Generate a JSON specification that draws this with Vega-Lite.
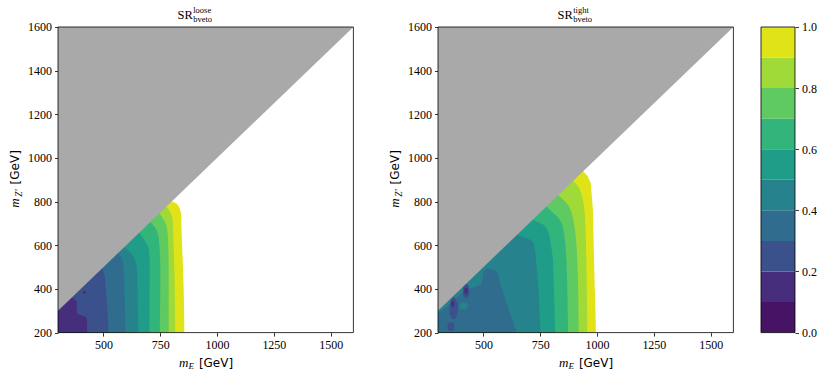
{
 "$schema": "https://vega.github.io/schema/vega-lite/v6.json",
 "padding": {"left": 8, "top": 6, "right": 0, "bottom": 0},
 "background": "#ffffff",
 "bounds": "flush",
 "spacing": 27,
 "resolve": {"scale": {"x": "independent", "y": "independent"}},
 "config": {
  "view": {"stroke": null},
  "font": "Liberation Serif, DejaVu Serif, serif",
  "axis": {"grid": false, "domain": false, "ticks": true, "tickColor": "#000", "tickSize": 3.5, "tickWidth": 0.8, "labelFont": "Liberation Serif, DejaVu Serif, serif", "labelFontSize": 12, "labelColor": "#000", "labelPadding": 3, "labelFlush": false, "labelOverlap": false, "format": "d"}
 },
 "datasets": {
  "tri": [{"x": 300, "y": 300}, {"x": 1600, "y": 1600}],
  "cbar": [
   {"c": 0, "lo": 0.0, "hi": 0.1}, {"c": 1, "lo": 0.1, "hi": 0.2}, {"c": 2, "lo": 0.2, "hi": 0.3}, {"c": 3, "lo": 0.3, "hi": 0.4}, {"c": 4, "lo": 0.4, "hi": 0.5},
   {"c": 5, "lo": 0.5, "hi": 0.6}, {"c": 6, "lo": 0.6, "hi": 0.7}, {"c": 7, "lo": 0.7, "hi": 0.8}, {"c": 8, "lo": 0.8, "hi": 0.9}, {"c": 9, "lo": 0.9, "hi": 1.0}
  ],
  "bands": [
   {"p":1,"s":"a9","c":9,"y":200,"a":300,"b":856},{"p":1,"s":"a9","c":9,"y":300,"a":300,"b":855},{"p":1,"s":"a9","c":9,"y":400,"a":300,"b":853},{"p":1,"s":"a9","c":9,"y":500,"a":300,"b":850},{"p":1,"s":"a9","c":9,"y":600,"a":300,"b":846},{"p":1,"s":"a9","c":9,"y":700,"a":300,"b":843},{"p":1,"s":"a9","c":9,"y":740,"a":300,"b":842},{"p":1,"s":"a9","c":9,"y":760,"a":300,"b":838},{"p":1,"s":"a9","c":9,"y":780,"a":300,"b":830},{"p":1,"s":"a9","c":9,"y":790,"a":300,"b":822},{"p":1,"s":"a9","c":9,"y":797,"a":300,"b":810},{"p":1,"s":"a9","c":9,"y":803,"a":300,"b":798},
   {"p":1,"s":"a8","c":8,"y":200,"a":300,"b":816},{"p":1,"s":"a8","c":8,"y":300,"a":300,"b":815},{"p":1,"s":"a8","c":8,"y":400,"a":300,"b":814},{"p":1,"s":"a8","c":8,"y":500,"a":300,"b":812},{"p":1,"s":"a8","c":8,"y":600,"a":300,"b":809},{"p":1,"s":"a8","c":8,"y":700,"a":300,"b":806},{"p":1,"s":"a8","c":8,"y":735,"a":300,"b":801},{"p":1,"s":"a8","c":8,"y":765,"a":300,"b":787},{"p":1,"s":"a8","c":8,"y":778,"a":300,"b":778},{"p":1,"s":"a8","c":8,"y":790,"a":300,"b":770},
   {"p":1,"s":"a7","c":7,"y":200,"a":300,"b":787},{"p":1,"s":"a7","c":7,"y":300,"a":300,"b":787},{"p":1,"s":"a7","c":7,"y":400,"a":300,"b":787},{"p":1,"s":"a7","c":7,"y":500,"a":300,"b":787},{"p":1,"s":"a7","c":7,"y":600,"a":300,"b":785},{"p":1,"s":"a7","c":7,"y":660,"a":300,"b":782},{"p":1,"s":"a7","c":7,"y":704,"a":300,"b":772},{"p":1,"s":"a7","c":7,"y":725,"a":300,"b":760},{"p":1,"s":"a7","c":7,"y":745,"a":300,"b":748},{"p":1,"s":"a7","c":7,"y":755,"a":300,"b":740},
   {"p":1,"s":"a6","c":6,"y":200,"a":300,"b":748},{"p":1,"s":"a6","c":6,"y":300,"a":300,"b":749},{"p":1,"s":"a6","c":6,"y":400,"a":300,"b":750},{"p":1,"s":"a6","c":6,"y":500,"a":300,"b":750},{"p":1,"s":"a6","c":6,"y":600,"a":300,"b":746},{"p":1,"s":"a6","c":6,"y":650,"a":300,"b":740},{"p":1,"s":"a6","c":6,"y":680,"a":300,"b":728},{"p":1,"s":"a6","c":6,"y":700,"a":300,"b":712},{"p":1,"s":"a6","c":6,"y":712,"a":300,"b":700},
   {"p":1,"s":"a5","c":5,"y":200,"a":300,"b":702},{"p":1,"s":"a5","c":5,"y":300,"a":300,"b":703},{"p":1,"s":"a5","c":5,"y":400,"a":300,"b":703},{"p":1,"s":"a5","c":5,"y":500,"a":300,"b":704},{"p":1,"s":"a5","c":5,"y":580,"a":300,"b":700},{"p":1,"s":"a5","c":5,"y":628,"a":300,"b":678},{"p":1,"s":"a5","c":5,"y":650,"a":300,"b":662},{"p":1,"s":"a5","c":5,"y":665,"a":300,"b":655},
   {"p":1,"s":"a4","c":4,"y":200,"a":300,"b":654},{"p":1,"s":"a4","c":4,"y":300,"a":300,"b":652},{"p":1,"s":"a4","c":4,"y":400,"a":300,"b":650},{"p":1,"s":"a4","c":4,"y":500,"a":300,"b":647},{"p":1,"s":"a4","c":4,"y":530,"a":300,"b":640},{"p":1,"s":"a4","c":4,"y":560,"a":300,"b":625},{"p":1,"s":"a4","c":4,"y":585,"a":300,"b":600},{"p":1,"s":"a4","c":4,"y":600,"a":300,"b":590},
   {"p":1,"s":"a3","c":3,"y":200,"a":300,"b":597},{"p":1,"s":"a3","c":3,"y":300,"a":300,"b":595},{"p":1,"s":"a3","c":3,"y":400,"a":300,"b":592},{"p":1,"s":"a3","c":3,"y":500,"a":300,"b":588},{"p":1,"s":"a3","c":3,"y":540,"a":300,"b":580},{"p":1,"s":"a3","c":3,"y":560,"a":300,"b":568},{"p":1,"s":"a3","c":3,"y":580,"a":300,"b":565},
   {"p":1,"s":"a2","c":2,"y":200,"a":300,"b":522},{"p":1,"s":"a2","c":2,"y":300,"a":300,"b":518},{"p":1,"s":"a2","c":2,"y":400,"a":300,"b":510},{"p":1,"s":"a2","c":2,"y":450,"a":300,"b":506},{"p":1,"s":"a2","c":2,"y":480,"a":300,"b":500},{"p":1,"s":"a2","c":2,"y":500,"a":300,"b":490},
   {"p":1,"s":"a1","c":1,"y":200,"a":300,"b":428},{"p":1,"s":"a1","c":1,"y":250,"a":300,"b":428},{"p":1,"s":"a1","c":1,"y":270,"a":300,"b":424},{"p":1,"s":"a1","c":1,"y":280,"a":300,"b":400},{"p":1,"s":"a1","c":1,"y":290,"a":300,"b":384},{"p":1,"s":"a1","c":1,"y":310,"a":300,"b":382},{"p":1,"s":"a1","c":1,"y":340,"a":300,"b":383},{"p":1,"s":"a1","c":1,"y":350,"a":300,"b":375},{"p":1,"s":"a1","c":1,"y":362,"a":300,"b":355},
   {"p":1,"s":"ai","c":1,"y":378,"a":412,"b":420},{"p":1,"s":"ai","c":1,"y":385,"a":409,"b":423},{"p":1,"s":"ai","c":1,"y":392,"a":412,"b":420},

   {"p":2,"s":"b9","c":9,"y":200,"a":300,"b":995},{"p":2,"s":"b9","c":9,"y":300,"a":300,"b":993},{"p":2,"s":"b9","c":9,"y":400,"a":300,"b":990},{"p":2,"s":"b9","c":9,"y":528,"a":300,"b":987},{"p":2,"s":"b9","c":9,"y":650,"a":300,"b":984},{"p":2,"s":"b9","c":9,"y":757,"a":300,"b":982},{"p":2,"s":"b9","c":9,"y":849,"a":300,"b":975},{"p":2,"s":"b9","c":9,"y":880,"a":300,"b":973},{"p":2,"s":"b9","c":9,"y":900,"a":300,"b":966},{"p":2,"s":"b9","c":9,"y":920,"a":300,"b":956},{"p":2,"s":"b9","c":9,"y":932,"a":300,"b":945},{"p":2,"s":"b9","c":9,"y":945,"a":300,"b":935},
   {"p":2,"s":"b8","c":8,"y":200,"a":300,"b":957},{"p":2,"s":"b8","c":8,"y":300,"a":300,"b":956},{"p":2,"s":"b8","c":8,"y":400,"a":300,"b":955},{"p":2,"s":"b8","c":8,"y":528,"a":300,"b":953},{"p":2,"s":"b8","c":8,"y":650,"a":300,"b":950},{"p":2,"s":"b8","c":8,"y":757,"a":300,"b":945},{"p":2,"s":"b8","c":8,"y":834,"a":300,"b":931},{"p":2,"s":"b8","c":8,"y":872,"a":300,"b":916},{"p":2,"s":"b8","c":8,"y":890,"a":300,"b":900},{"p":2,"s":"b8","c":8,"y":905,"a":300,"b":890},
   {"p":2,"s":"b7","c":7,"y":200,"a":300,"b":919},{"p":2,"s":"b7","c":7,"y":300,"a":300,"b":918},{"p":2,"s":"b7","c":7,"y":400,"a":300,"b":917},{"p":2,"s":"b7","c":7,"y":528,"a":300,"b":913},{"p":2,"s":"b7","c":7,"y":681,"a":300,"b":901},{"p":2,"s":"b7","c":7,"y":773,"a":300,"b":879},{"p":2,"s":"b7","c":7,"y":805,"a":300,"b":855},{"p":2,"s":"b7","c":7,"y":825,"a":300,"b":835},{"p":2,"s":"b7","c":7,"y":840,"a":300,"b":825},
   {"p":2,"s":"b6","c":6,"y":200,"a":300,"b":872},{"p":2,"s":"b6","c":6,"y":300,"a":300,"b":871},{"p":2,"s":"b6","c":6,"y":400,"a":300,"b":869},{"p":2,"s":"b6","c":6,"y":528,"a":300,"b":865},{"p":2,"s":"b6","c":6,"y":681,"a":300,"b":850},{"p":2,"s":"b6","c":6,"y":727,"a":300,"b":828},{"p":2,"s":"b6","c":6,"y":755,"a":300,"b":800},{"p":2,"s":"b6","c":6,"y":775,"a":300,"b":780},{"p":2,"s":"b6","c":6,"y":790,"a":300,"b":775},
   {"p":2,"s":"b5","c":5,"y":200,"a":300,"b":816},{"p":2,"s":"b5","c":5,"y":300,"a":300,"b":813},{"p":2,"s":"b5","c":5,"y":400,"a":300,"b":810},{"p":2,"s":"b5","c":5,"y":528,"a":300,"b":806},{"p":2,"s":"b5","c":5,"y":600,"a":300,"b":797},{"p":2,"s":"b5","c":5,"y":660,"a":300,"b":786},{"p":2,"s":"b5","c":5,"y":690,"a":300,"b":770},{"p":2,"s":"b5","c":5,"y":705,"a":300,"b":740},{"p":2,"s":"b5","c":5,"y":722,"a":300,"b":712},
   {"p":2,"s":"b4","c":4,"y":200,"a":300,"b":751},{"p":2,"s":"b4","c":4,"y":300,"a":300,"b":747},{"p":2,"s":"b4","c":4,"y":400,"a":300,"b":742},{"p":2,"s":"b4","c":4,"y":528,"a":300,"b":732},{"p":2,"s":"b4","c":4,"y":605,"a":300,"b":722},{"p":2,"s":"b4","c":4,"y":625,"a":300,"b":705},{"p":2,"s":"b4","c":4,"y":640,"a":300,"b":670},{"p":2,"s":"b4","c":4,"y":652,"a":300,"b":645},
   {"p":2,"s":"b3","c":3,"y":200,"a":300,"b":645},{"p":2,"s":"b3","c":3,"y":250,"a":300,"b":630},{"p":2,"s":"b3","c":3,"y":300,"a":300,"b":614},{"p":2,"s":"b3","c":3,"y":350,"a":300,"b":597},{"p":2,"s":"b3","c":3,"y":400,"a":300,"b":582},{"p":2,"s":"b3","c":3,"y":440,"a":300,"b":570},{"p":2,"s":"b3","c":3,"y":470,"a":300,"b":563},{"p":2,"s":"b3","c":3,"y":485,"a":300,"b":552},{"p":2,"s":"b3","c":3,"y":492,"a":300,"b":530},
   {"p":2,"s":"bs","c":4,"y":288,"a":300,"b":300},{"p":2,"s":"bs","c":4,"y":320,"a":300,"b":340},{"p":2,"s":"bs","c":4,"y":350,"a":300,"b":372},{"p":2,"s":"bs","c":4,"y":380,"a":300,"b":405},{"p":2,"s":"bs","c":4,"y":400,"a":300,"b":440},{"p":2,"s":"bs","c":4,"y":420,"a":300,"b":485},{"p":2,"s":"bs","c":4,"y":440,"a":300,"b":495},{"p":2,"s":"bs","c":4,"y":470,"a":300,"b":500},{"p":2,"s":"bs","c":4,"y":485,"a":300,"b":505},{"p":2,"s":"bs","c":4,"y":492,"a":300,"b":515},
   {"p":2,"s":"bi1","c":4,"y":307,"a":402,"b":423},{"p":2,"s":"bi1","c":4,"y":315,"a":396,"b":429},{"p":2,"s":"bi1","c":4,"y":325,"a":394,"b":431},{"p":2,"s":"bi1","c":4,"y":333,"a":398,"b":428},{"p":2,"s":"bi1","c":4,"y":338,"a":406,"b":420},
   {"p":2,"s":"bi2","c":2,"y":262,"a":362,"b":374},{"p":2,"s":"bi2","c":2,"y":280,"a":353,"b":383},{"p":2,"s":"bi2","c":2,"y":300,"a":350,"b":386},{"p":2,"s":"bi2","c":2,"y":320,"a":351,"b":387},{"p":2,"s":"bi2","c":2,"y":340,"a":354,"b":385},{"p":2,"s":"bi2","c":2,"y":355,"a":360,"b":378},{"p":2,"s":"bi2","c":2,"y":362,"a":366,"b":372},
   {"p":2,"s":"bi3","c":1,"y":318,"a":362,"b":368},{"p":2,"s":"bi3","c":1,"y":326,"a":358,"b":372},{"p":2,"s":"bi3","c":1,"y":336,"a":358,"b":372},{"p":2,"s":"bi3","c":1,"y":345,"a":362,"b":368},
   {"p":2,"s":"bi4","c":2,"y":360,"a":419,"b":429},{"p":2,"s":"bi4","c":2,"y":372,"a":411,"b":436},{"p":2,"s":"bi4","c":2,"y":390,"a":409,"b":438},{"p":2,"s":"bi4","c":2,"y":410,"a":411,"b":436},{"p":2,"s":"bi4","c":2,"y":422,"a":418,"b":430},
   {"p":2,"s":"bi5","c":1,"y":376,"a":420,"b":427},{"p":2,"s":"bi5","c":1,"y":386,"a":416,"b":431},{"p":2,"s":"bi5","c":1,"y":398,"a":416,"b":431},{"p":2,"s":"bi5","c":1,"y":406,"a":420,"b":427},
   {"p":2,"s":"bi6","c":2,"y":208,"a":351,"b":364},{"p":2,"s":"bi6","c":2,"y":216,"a":343,"b":371},{"p":2,"s":"bi6","c":2,"y":235,"a":342,"b":372},{"p":2,"s":"bi6","c":2,"y":246,"a":350,"b":364}
  ]
 },
 "hconcat": [
  {
   "width": 352.2, "height": 305.6,
   "layer": [
    {"data": {"name": "bands"}, "transform": [{"filter": "datum.p == 1"}],
     "mark": {"type": "area", "orient": "horizontal", "clip": true, "interpolate": "monotone"},
     "encoding": {
      "y": {"field": "y", "type": "quantitative", "scale": {"domain": [200, 1600], "nice": false, "zero": false}, "axis": {"values": [200, 400, 600, 800, 1000, 1200, 1400, 1600], "format": "d", "title": null}},
      "x": {"field": "a", "type": "quantitative", "stack": null, "scale": {"domain": [300, 1850], "nice": false, "zero": false}, "axis": {"values": [500, 750, 1000, 1250, 1500], "format": "d", "title": null}},
      "x2": {"field": "b"},
      "color": {"field": "c", "type": "ordinal", "scale": {"domain": [0,1,2,3,4,5,6,7,8,9], "range": ["#471365","#472e7c","#3b518b","#2f6c8e","#26838e","#1f9d89","#32b47b","#5fc962","#a0da39","#e1e319"]}, "legend": null},
      "detail": {"field": "s"}
     }},
    {"data": {"name": "tri"}, "mark": {"type": "area", "color": "#a9a9a9", "clip": true},
     "encoding": {"x": {"field": "x", "type": "quantitative"}, "y": {"field": "y", "type": "quantitative"}, "y2": {"datum": 1600}}},
    {"data": {"values": [{}]}, "mark": {"type": "rect", "filled": false, "color": "#000", "strokeWidth": 0.8},
     "encoding": {"x": {"datum": 300}, "x2": {"datum": 1600}, "y": {"datum": 200}, "y2": {"datum": 1600}}},
    {"data": {"values": [{}]}, "mark": {"type": "text", "text": "SR", "font": "Liberation Serif, DejaVu Serif, serif", "fontSize": 12.5, "align": "right", "baseline": "alphabetic", "dy": -7.5, "color": "#000"},
     "encoding": {"x": {"datum": 893}, "y": {"datum": 1600}}},
    {"data": {"values": [{}]}, "mark": {"type": "text", "text": "loose", "font": "Liberation Serif, DejaVu Serif, serif", "fontSize": 8.5, "align": "left", "baseline": "alphabetic", "dx": 0.5, "dy": -13.5, "color": "#000"},
     "encoding": {"x": {"datum": 893}, "y": {"datum": 1600}}},
    {"data": {"values": [{}]}, "mark": {"type": "text", "text": "bveto", "font": "Liberation Serif, DejaVu Serif, serif", "fontSize": 8.5, "align": "left", "baseline": "alphabetic", "dx": 0.5, "dy": -5, "color": "#000"},
     "encoding": {"x": {"datum": 893}, "y": {"datum": 1600}}},
    {"data": {"values": [{}]}, "mark": {"type": "text", "text": "m", "font": "Liberation Serif, DejaVu Serif, serif", "fontStyle": "italic", "fontSize": 13, "align": "right", "baseline": "alphabetic", "dx": -5.5, "dy": 34, "color": "#000"},
     "encoding": {"x": {"datum": 898}, "y": {"datum": 200}}},
    {"data": {"values": [{}]}, "mark": {"type": "text", "text": "E", "font": "Liberation Serif, DejaVu Serif, serif", "fontStyle": "italic", "fontSize": 9, "align": "right", "baseline": "alphabetic", "dy": 36.5, "color": "#000"},
     "encoding": {"x": {"datum": 898}, "y": {"datum": 200}}},
    {"data": {"values": [{}]}, "mark": {"type": "text", "text": "[GeV]", "font": "DejaVu Sans", "fontSize": 12, "align": "left", "baseline": "alphabetic", "dx": 5, "dy": 34, "color": "#000"},
     "encoding": {"x": {"datum": 898}, "y": {"datum": 200}}},
    {"data": {"values": [{}]}, "mark": {"type": "text", "text": "m", "font": "Liberation Serif, DejaVu Serif, serif", "fontStyle": "italic", "fontSize": 13, "angle": 270, "align": "right", "baseline": "alphabetic", "dx": -9, "dy": -39, "color": "#000"},
     "encoding": {"x": {"datum": 300}, "y": {"datum": 856}}},
    {"data": {"values": [{}]}, "mark": {"type": "text", "text": "Z'", "font": "Liberation Serif, DejaVu Serif, serif", "fontStyle": "italic", "fontSize": 9.5, "angle": 270, "align": "right", "baseline": "alphabetic", "dy": -36.5, "color": "#000"},
     "encoding": {"x": {"datum": 300}, "y": {"datum": 856}}},
    {"data": {"values": [{}]}, "mark": {"type": "text", "text": "[GeV]", "font": "DejaVu Sans", "fontSize": 12, "angle": 270, "align": "left", "baseline": "alphabetic", "dx": 5, "dy": -39, "color": "#000"},
     "encoding": {"x": {"datum": 300}, "y": {"datum": 856}}}
   ]
  },
  {
   "width": 295.4, "height": 305.6,
   "layer": [
    {"data": {"name": "bands"}, "transform": [{"filter": "datum.p == 2"}],
     "mark": {"type": "area", "orient": "horizontal", "clip": true, "interpolate": "monotone"},
     "encoding": {
      "y": {"field": "y", "type": "quantitative", "scale": {"domain": [200, 1600], "nice": false, "zero": false}, "axis": {"values": [200, 400, 600, 800, 1000, 1200, 1400, 1600], "format": "d", "title": null}},
      "x": {"field": "a", "type": "quantitative", "stack": null, "scale": {"domain": [300, 1600], "nice": false, "zero": false}, "axis": {"values": [500, 750, 1000, 1250, 1500], "format": "d", "title": null}},
      "x2": {"field": "b"},
      "color": {"field": "c", "type": "ordinal", "scale": {"domain": [0,1,2,3,4,5,6,7,8,9], "range": ["#471365","#472e7c","#3b518b","#2f6c8e","#26838e","#1f9d89","#32b47b","#5fc962","#a0da39","#e1e319"]}, "legend": null},
      "detail": {"field": "s"}
     }},
    {"data": {"name": "tri"}, "mark": {"type": "area", "color": "#a9a9a9", "clip": true},
     "encoding": {"x": {"field": "x", "type": "quantitative"}, "y": {"field": "y", "type": "quantitative"}, "y2": {"datum": 1600}}},
    {"data": {"values": [{}]}, "mark": {"type": "rect", "filled": false, "color": "#000", "strokeWidth": 0.8},
     "encoding": {"x": {"datum": 300}, "x2": {"datum": 1600}, "y": {"datum": 200}, "y2": {"datum": 1600}}},
    {"data": {"values": [{}]}, "mark": {"type": "text", "text": "SR", "font": "Liberation Serif, DejaVu Serif, serif", "fontSize": 12.5, "align": "right", "baseline": "alphabetic", "dy": -7.5, "color": "#000"},
     "encoding": {"x": {"datum": 893}, "y": {"datum": 1600}}},
    {"data": {"values": [{}]}, "mark": {"type": "text", "text": "tight", "font": "Liberation Serif, DejaVu Serif, serif", "fontSize": 8.5, "align": "left", "baseline": "alphabetic", "dx": 0.5, "dy": -13.5, "color": "#000"},
     "encoding": {"x": {"datum": 893}, "y": {"datum": 1600}}},
    {"data": {"values": [{}]}, "mark": {"type": "text", "text": "bveto", "font": "Liberation Serif, DejaVu Serif, serif", "fontSize": 8.5, "align": "left", "baseline": "alphabetic", "dx": 0.5, "dy": -5, "color": "#000"},
     "encoding": {"x": {"datum": 893}, "y": {"datum": 1600}}},
    {"data": {"values": [{}]}, "mark": {"type": "text", "text": "m", "font": "Liberation Serif, DejaVu Serif, serif", "fontStyle": "italic", "fontSize": 13, "align": "right", "baseline": "alphabetic", "dx": -5.5, "dy": 34, "color": "#000"},
     "encoding": {"x": {"datum": 898}, "y": {"datum": 200}}},
    {"data": {"values": [{}]}, "mark": {"type": "text", "text": "E", "font": "Liberation Serif, DejaVu Serif, serif", "fontStyle": "italic", "fontSize": 9, "align": "right", "baseline": "alphabetic", "dy": 36.5, "color": "#000"},
     "encoding": {"x": {"datum": 898}, "y": {"datum": 200}}},
    {"data": {"values": [{}]}, "mark": {"type": "text", "text": "[GeV]", "font": "DejaVu Sans", "fontSize": 12, "align": "left", "baseline": "alphabetic", "dx": 5, "dy": 34, "color": "#000"},
     "encoding": {"x": {"datum": 898}, "y": {"datum": 200}}},
    {"data": {"values": [{}]}, "mark": {"type": "text", "text": "m", "font": "Liberation Serif, DejaVu Serif, serif", "fontStyle": "italic", "fontSize": 13, "angle": 270, "align": "right", "baseline": "alphabetic", "dx": -9, "dy": -39, "color": "#000"},
     "encoding": {"x": {"datum": 300}, "y": {"datum": 856}}},
    {"data": {"values": [{}]}, "mark": {"type": "text", "text": "Z'", "font": "Liberation Serif, DejaVu Serif, serif", "fontStyle": "italic", "fontSize": 9.5, "angle": 270, "align": "right", "baseline": "alphabetic", "dy": -36.5, "color": "#000"},
     "encoding": {"x": {"datum": 300}, "y": {"datum": 856}}},
    {"data": {"values": [{}]}, "mark": {"type": "text", "text": "[GeV]", "font": "DejaVu Sans", "fontSize": 12, "angle": 270, "align": "left", "baseline": "alphabetic", "dx": 5, "dy": -39, "color": "#000"},
     "encoding": {"x": {"datum": 300}, "y": {"datum": 856}}}
   ]
  },
  {
   "width": 34, "height": 305.6,
   "layer": [
    {"data": {"name": "cbar"}, "mark": {"type": "rect"},
     "encoding": {
      "y": {"field": "lo", "type": "quantitative", "scale": {"domain": [0, 1], "nice": false, "zero": false}, "axis": {"orient": "right", "values": [0, 0.2, 0.4, 0.6, 0.8, 1.0], "format": ".1f", "title": null}},
      "y2": {"field": "hi"},
      "x": {"datum": 0, "type": "quantitative", "scale": {"domain": [0, 1]}, "axis": null},
      "x2": {"datum": 1},
      "color": {"field": "c", "type": "ordinal", "scale": {"domain": [0,1,2,3,4,5,6,7,8,9], "range": ["#471365","#472e7c","#3b518b","#2f6c8e","#26838e","#1f9d89","#32b47b","#5fc962","#a0da39","#e1e319"]}, "legend": null}
     }},
    {"data": {"values": [{}]}, "mark": {"type": "rect", "filled": false, "color": "#000", "strokeWidth": 0.8},
     "encoding": {"x": {"datum": 0}, "x2": {"datum": 1}, "y": {"datum": 0}, "y2": {"datum": 1}}}
   ]
  }
 ]
}
